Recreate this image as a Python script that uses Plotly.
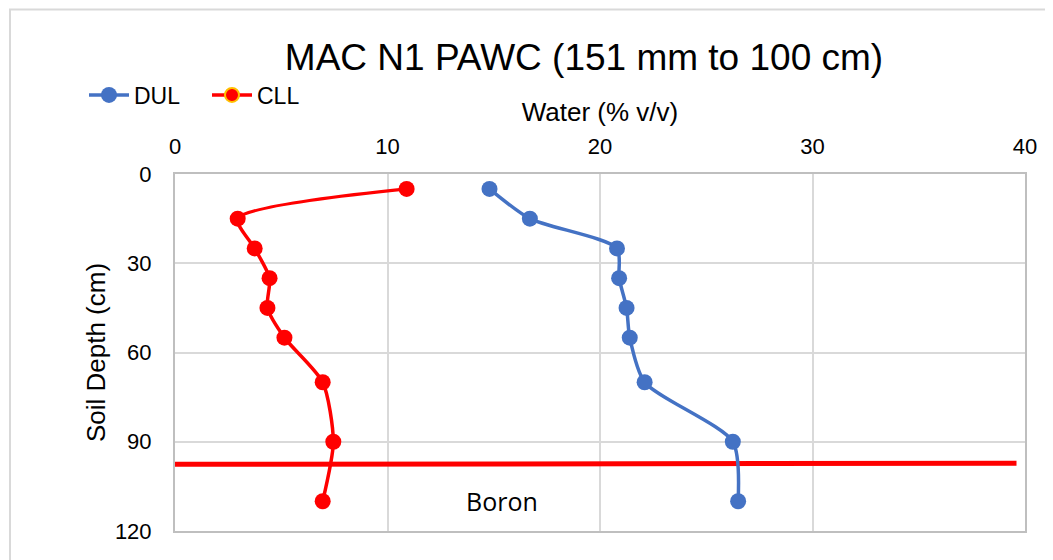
import plotly.graph_objects as go

depth = [5, 15, 25, 35, 45, 55, 70, 90, 110]
dul = [14.8, 16.7, 20.8, 20.9, 21.25, 21.4, 22.1, 26.25, 26.5]
cll = [10.9, 2.95, 3.75, 4.45, 4.35, 5.15, 6.95, 7.45, 6.95]

boron_x = [0, 39.6]
boron_y = [97.6, 97.2]
boron_label = "Boron"
boron_label_pos = (15.4, 110)

title = "MAC N1 PAWC (151 mm to 100 cm)"
x_title = "Water (% v/v)"
y_title = "Soil Depth (cm)"
x_ticks = [0, 10, 20, 30, 40]
y_ticks = [0, 30, 60, 90, 120]

BLUE = "#4472C4"
RED = "#FF0000"
FONT = "Liberation Sans, Arial, sans-serif"

# page body has an 8px margin; work in figure coordinates
OFF = 8
PL, PR, PT, PB = 175 - OFF, 1025 - OFF, 174 - OFF, 531 - OFF
W, H = 1053, 560
PW, PH = PR - PL, PB - PT

fig = go.Figure()

fig.add_trace(go.Scatter(
    x=boron_x, y=boron_y, mode="lines",
    line=dict(color=RED, width=5), showlegend=False, hoverinfo="skip"))

fig.add_trace(go.Scatter(
    x=dul, y=depth, mode="lines+markers", name="DUL",
    line=dict(color=BLUE, width=3.5, shape="spline", smoothing=0.7),
    marker=dict(color=BLUE, size=16)))

fig.add_trace(go.Scatter(
    x=cll, y=depth, mode="lines+markers", name="CLL", showlegend=False,
    line=dict(color=RED, width=3.5, shape="spline", smoothing=0.7),
    marker=dict(color=RED, size=16)))

fig.add_trace(go.Scatter(
    x=[None], y=[None], mode="lines+markers", name="CLL",
    line=dict(color=RED, width=3.5),
    marker=dict(color=RED, size=14, line=dict(color="#FFC000", width=2))))

fig.add_annotation(x=boron_label_pos[0], y=boron_label_pos[1], text=boron_label,
                   showarrow=False, font=dict(family="Open Sans, sans-serif", size=25, color="black"))

# outer chart border
fig.add_shape(type="rect", xref="paper", yref="paper",
              x0=(10 - OFF - PL) / PW, x1=(1070 - PL) / PW,
              y0=(PB - 580) / PH, y1=(PB - 1.5) / PH,
              line=dict(color="#D9D9D9", width=2), layer="below")

fig.update_layout(
    width=W, height=H,
    margin=dict(l=PL, r=W - PR, t=PT, b=H - PB),
    paper_bgcolor="white", plot_bgcolor="white",
    font=dict(family=FONT, color="black", size=22),
    title=dict(text=title, x=(584 - OFF) / W, xanchor="center", xref="container",
               y=1 - (57 - OFF) / H, yanchor="middle", yref="container",
               font=dict(size=37, family=FONT, color="black")),
    legend=dict(orientation="h", x=(84 - OFF - PL) / PW, y=(PB - (95 - OFF)) / PH,
                xanchor="left", yanchor="middle",
                font=dict(size=23, family=FONT), bgcolor="rgba(0,0,0,0)",
                itemwidth=40, tracegroupgap=0, entrywidth=68),
    showlegend=True,
)

fig.update_xaxes(
    side="top", range=[0, 40], tickvals=x_ticks, ticktext=[str(v) for v in x_ticks],
    showgrid=True, gridcolor="#D9D9D9", gridwidth=1.5,
    showline=True, linecolor="#BFBFBF", linewidth=2, mirror=True,
    zeroline=False, ticks="", ticklabelstandoff=9,
    title=dict(text=x_title, font=dict(size=26), standoff=5),
    tickfont=dict(size=22))

fig.update_yaxes(
    range=[120, 0], tickvals=y_ticks, ticktext=[str(v) for v in y_ticks],
    showgrid=True, gridcolor="#D9D9D9", gridwidth=1.5,
    showline=True, linecolor="#BFBFBF", linewidth=2, mirror=True,
    zeroline=False, ticks="", ticklabelstandoff=17,
    title=dict(text=y_title, font=dict(size=26), standoff=2),
    tickfont=dict(size=22))

fig.write_html("out.html")
